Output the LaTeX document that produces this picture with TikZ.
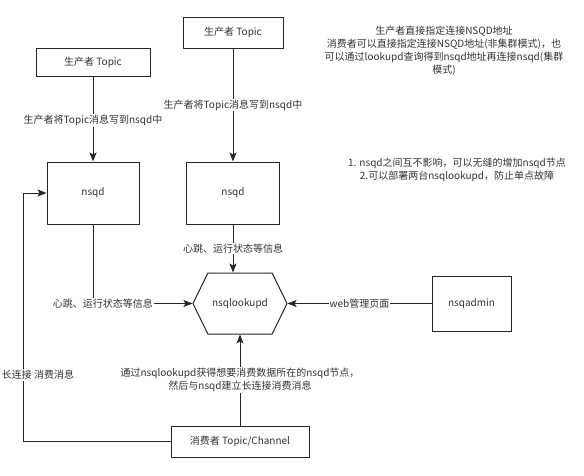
\documentclass[tikz,border=0pt]{standalone}
\usepackage{fontspec}
\setmainfont{Noto Sans CJK SC}
\usetikzlibrary{arrows.meta,shapes.symbols,positioning}

\begin{document}
\begin{tikzpicture}[x=1pt, y=-1pt, line width=1pt, draw=black!85, >={Stealth[length=9pt,width=7pt,inset=2pt]},
    txt/.style = {text=black!80, font=\fontsize{10pt}{13pt}\selectfont},
    box/.style = {draw, rectangle, inner sep=0pt, txt},
    hexa/.style = {draw, shape=signal, signal to=west and east, signal pointer angle=128, inner sep=0pt, txt},
    lbl/.style = {fill=white, inner sep=1pt, txt}]
        \useasboundingbox (0,0) rectangle (584,475);

        \node[box, minimum width=114pt, minimum height=28pt] (p_1) at (93,62) {生产者 Topic};
        \node[box, minimum width=100pt, minimum height=31pt] (p_2) at (233,32.5) {生产者 Topic};
        \node[box, minimum width=92pt, minimum height=62pt] (q_1) at (93,193) {nsqd};
        \node[box, minimum width=93pt, minimum height=62pt] (q_2) at (233,193) {nsqd};
        \node[hexa, minimum width=94pt, minimum height=61pt] (lookup) at (240,303.5) {nsqlookupd};
        \node[box, minimum width=79pt, minimum height=55pt] (admin) at (471.5,303.5) {nsqadmin};
        \node[box, minimum width=138pt, minimum height=31pt] (cons) at (240,441.5) {消费者 Topic/Channel};
        \coordinate (c_1) at (23,441.5);

        \node[txt, align=center] (note_1) at (444,51) {生产者直接指定连接NSQD地址\\消费者可以直接指定连接NSQD地址(非集群模式)，也\\可以通过lookupd查询得到nsqd地址再连接nsqd(集群\\模式)};
        \node[txt, align=center] (note_2) at (457,169.5) {1. nsqd之间互不影响，可以无缝的增加nsqd节点\\2.可以部署两台nsqlookupd，防止单点故障};

        \draw[->] (p_1) -- node[lbl, pos=0.52] {生产者将Topic消息写到nsqd中} (q_1);
        \draw[->] (p_2) -- node[lbl, pos=0.5] {生产者将Topic消息写到nsqd中} (q_2);
        \draw[->] (q_1.south) |- node[lbl, pos=0.55] {心跳、运行状态等信息} (lookup.west);
        \draw[->] (q_2.south) -- node[lbl, pos=0.5] {心跳、运行状态等信息} (q_2.south |- lookup.north);
        \draw[->] (admin.west) -- node[lbl, pos=0.5] {web管理页面} (lookup.east);
        \draw[->] (cons) -- node[lbl, align=center, pos=0.5] {通过nsqlookupd获得想要消费数据所在的nsqd节点，\\然后与nsqd建立长连接消费消息} (lookup);
        \draw[->] (cons.west) -- (c_1) |- node[lbl, pos=0.134, xshift=15pt] {长连接 消费消息} (q_1.west);
    \end{tikzpicture}
\end{document}
